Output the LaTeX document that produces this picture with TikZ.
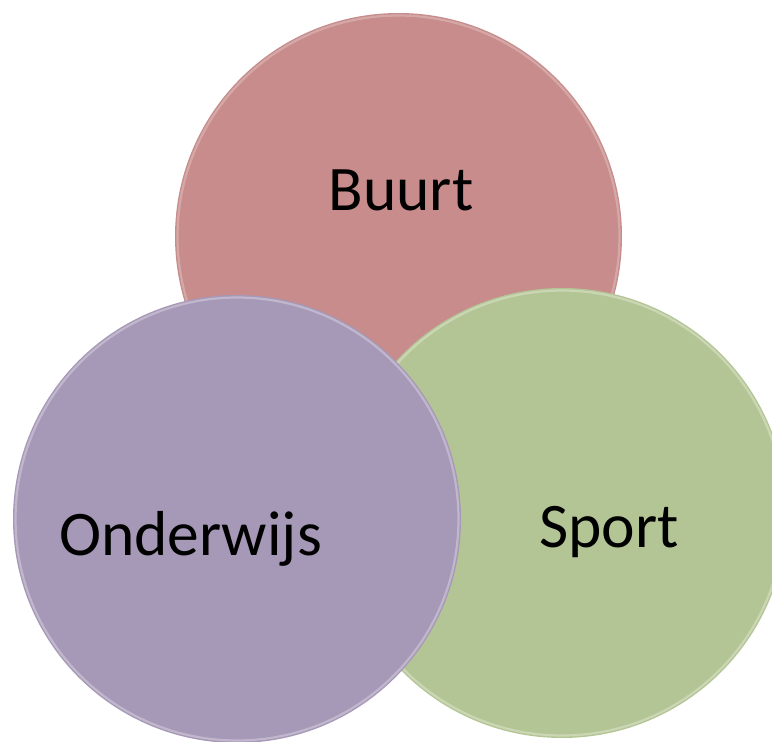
\documentclass[tikz,border=0pt]{standalone}
\usepackage{fontspec}
\setmainfont{Carlito}
\definecolor{buurtc}{RGB}{199,140,139}
\definecolor{sportc}{RGB}{180,197,149}
\definecolor{onderc}{RGB}{166,152,183}
\begin{document}
\begin{tikzpicture}[x=1pt,y=-1pt,
  disc/.style={circle, inner sep=0pt, minimum size=#1, draw=none},
  rim/.style={line width=2.2pt, opacity=0.55},
  lbl/.style={font=\fontsize{63.5}{64}\selectfont, text=black, inner sep=0pt, anchor=base}]
\useasboundingbox (0,0) rectangle (772,742);
\begin{scope}
\clip (0,0) rectangle (772,742);
% Buurt
\node[disc=447pt, fill=buurtc] (buurt) at (398.5,236.5) {};
\draw[rim, color=buurtc!55!white] (buurt.center) circle (221pt);
% Sport
\node[disc=450pt, fill=sportc] (sport) at (562,513) {};
\draw[rim, color=sportc!45!white] (sport.center) circle (222.5pt);
% Onderwijs
\node[disc=448pt, fill=onderc] (onder) at (237,519) {};
\draw[rim, color=onderc!45!white] (onder.center) circle (221.5pt);
\end{scope}
% labels
\node[lbl] (tb) at (401,210) {Buurt};
\node[lbl] (ts) at (609,547) {Sport};
\node[lbl] (to) at (190.5,555) {Onderwijs};
\end{tikzpicture}
\end{document}
